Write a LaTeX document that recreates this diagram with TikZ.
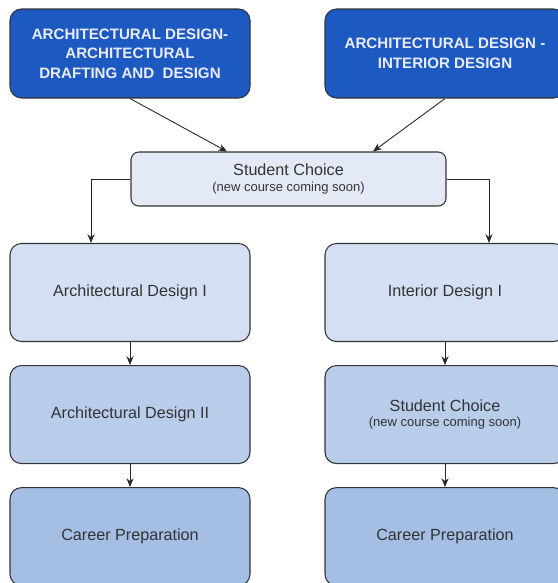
\documentclass[tikz,border=0pt]{standalone}
\usepackage{fontspec}
\setmainfont{Liberation Sans}
\usetikzlibrary{positioning}
\usetikzlibrary{arrows.meta}
\definecolor{trackblue}{HTML}{1C5AC2}
\definecolor{choicefill}{HTML}{E3EAF6}
\definecolor{rowa}{HTML}{D3DFF2}
\definecolor{rowb}{HTML}{B9CDEB}
\definecolor{rowc}{HTML}{A4BEE4}
\definecolor{ink}{HTML}{333333}
\newcommand{\soon}{\fontsize{7.4}{9}\selectfont (new course coming soon)}
\tikzset{track/.style={draw = ink, line width=0.6pt, rounded corners=6.5pt, fill=trackblue, text=white!92!blue, font=\fontsize{8.6}{11.2}\selectfont\bfseries, minimum width = 4.8cm, minimum height = 1.78cm, inner sep=0pt, align = center}}
\tikzset{course/.style={draw = ink, line width=0.6pt, rounded corners=6.5pt, text=ink, font=\fontsize{9.2}{11}\selectfont, minimum width = 4.8cm, minimum height = 1.96cm, inner sep=0pt, align = center}}
\tikzset{arr/.style={draw = black!85, line width=0.5pt, -{Stealth[length=5pt, width=4pt]}}}

\begin{document}
\begin{tikzpicture}
  \useasboundingbox (0,0) rectangle (11.14,-11.66);

  \node[track] (ad) at (2.6,-1.07) {ARCHITECTURAL DESIGN-\\ARCHITECTURAL\\DRAFTING AND\ \ DESIGN};
  \node[track] (id) at (8.9,-1.07) {ARCHITECTURAL DESIGN -\\INTERIOR DESIGN};
  \node[course, fill=choicefill, rounded corners=4.5pt, minimum width = 6.3cm, minimum height = 1.08cm] (choice) at (5.77,-3.58) {Student Choice\\[-2pt]\soon};

  \draw[arr] (ad.south) -- ([xshift=-1.23cm]choice.north);
  \draw[arr] (id.south) -- ([xshift=1.69cm]choice.north);

  \node[course, fill=rowa] (a1) at (2.6,-5.85) {Architectural Design I};
  \foreach \x/\t/\c [remember=\x as \lastx (initially 1)] in {2/Architectural Design II/rowb, 3/Career Preparation/rowc}{
    \node[course, fill=\c, below = 4.6mm of a\lastx] (a\x) {\t};
    \draw[arr] (a\lastx) -- (a\x);
  }

  \node[course, fill=rowa] (i1) at (8.9,-5.85) {Interior Design I};
  \foreach \x/\t/\c [remember=\x as \lastx (initially 1)] in {2/{Student Choice\\[-2pt]\soon}/rowb, 3/Career Preparation/rowc}{
    \node[course, fill=\c, below = 4.6mm of i\lastx] (i\x) {\t};
    \draw[arr] (i\lastx) -- (i\x);
  }

  \draw[arr] (choice.west) -| ([xshift=-0.78cm]a1.north);
  \draw[arr] (choice.east) -| ([xshift=0.88cm]i1.north);
\end{tikzpicture}
\end{document}
